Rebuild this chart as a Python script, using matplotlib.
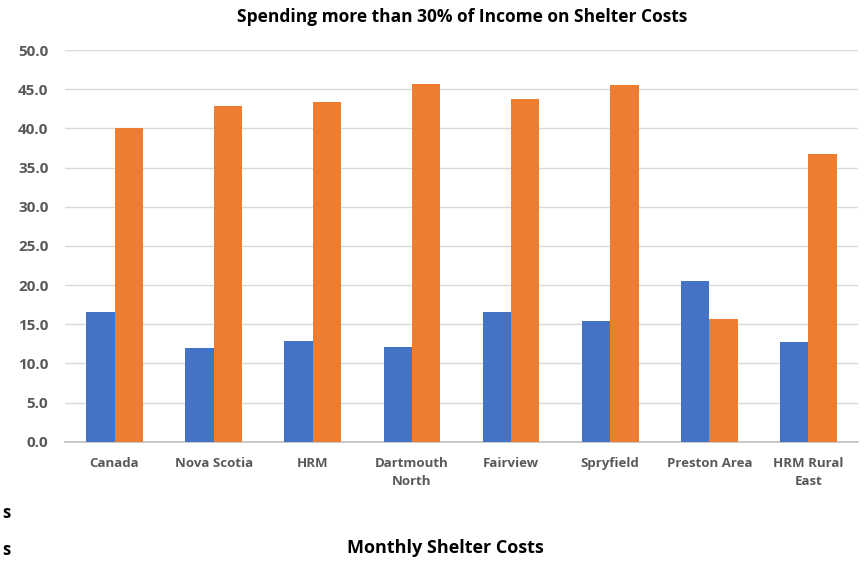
import matplotlib.pyplot as plt
import numpy as np

categories = ["Canada", "Nova Scotia", "HRM", "Dartmouth\nNorth", "Fairview",
              "Spryfield", "Preston Area", "HRM Rural\nEast"]
blue_values = [16.5, 12.0, 12.8, 12.1, 16.6, 15.4, 20.5, 12.7]
orange_values = [40.0, 42.8, 43.3, 45.7, 43.8, 45.5, 15.7, 36.7]
y_ticks = [0, 5, 10, 15, 20, 25, 30, 35, 40, 45, 50]

BLUE = "#4472C4"
ORANGE = "#ED7D31"
TICK_GREY = "#595959"

plt.rcParams["font.family"] = ["Open Sans", "DejaVu Sans"]

fig = plt.figure(figsize=(8.67, 5.66), dpi=100)
ax = fig.add_axes([65 / 867, 1 - 441.7 / 566, (858 - 65) / 867, (441.7 - 50) / 566])

x = np.arange(len(categories))
width = 1 / 3.5
ax.bar(x - width / 2, blue_values, width, color=BLUE, zorder=3)
ax.bar(x + width / 2, orange_values, width, color=ORANGE, zorder=3)

ax.set_xlim(-0.5, len(categories) - 0.5)
ax.set_ylim(0, 50)
ax.set_yticks(y_ticks)
ax.set_yticklabels([f"{v:.1f}" for v in y_ticks], fontsize=11, fontweight="bold", color=TICK_GREY)
ax.set_xticks(x)
ax.set_xticklabels(categories, fontsize=9.5, fontweight="bold", color=TICK_GREY, linespacing=1.5)
ax.tick_params(axis="both", length=0)
ax.tick_params(axis="x", pad=11)
ax.tick_params(axis="y", pad=12)
ax.grid(axis="y", color="#D9D9D9", linewidth=1.0, zorder=0)
for side in ["top", "right", "left"]:
    ax.spines[side].set_visible(False)
ax.spines["bottom"].set_color("#BFBFBF")
ax.spines["bottom"].set_linewidth(1.2)

fig.text(462 / 867, 1 - 17 / 566, "Spending more than 30% of Income on Shelter Costs",
         ha="center", va="center", fontsize=12.5, fontweight="bold", color="black")
fig.text(445 / 867, 1 - 548 / 566, "Monthly Shelter Costs",
         ha="center", va="center", fontsize=13, fontweight="bold", color="black")
fig.text(2 / 867, 1 - 513 / 566, "s", ha="left", va="center", fontsize=12, fontweight="bold")
fig.text(2 / 867, 1 - 550 / 566, "s", ha="left", va="center", fontsize=12, fontweight="bold")

fig.savefig("out.png", dpi=100)
